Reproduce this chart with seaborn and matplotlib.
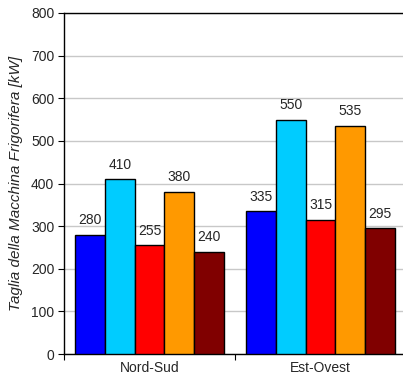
import pandas as pd
import matplotlib
matplotlib.use("Agg")
import matplotlib.pyplot as plt
import seaborn as sns

categories = ["Nord-Sud", "Est-Ovest"]
series = ["S1", "S2", "S3", "S4", "S5"]
values_nord_sud = [280, 410, 255, 380, 240]
values_est_ovest = [335, 550, 315, 535, 295]
colors = ["#0000FF", "#00CCFF", "#FF0000", "#FF9900", "#800000"]

df = pd.DataFrame({
    "cat": [categories[0]] * 5 + [categories[1]] * 5,
    "serie": series * 2,
    "val": values_nord_sud + values_est_ovest,
})

sns.set_style("white")
plt.rcParams['font.family'] = ['Liberation Sans', 'DejaVu Sans']

fig = plt.figure(figsize=(4.03, 3.81), dpi=100)
ax = fig.add_axes([64 / 403, 1 - 354 / 381, 342 / 403, 341 / 381])

sns.barplot(data=df, x="cat", y="val", hue="serie", order=categories,
            hue_order=series, palette=colors, width=0.87, saturation=1,
            edgecolor="black", linewidth=1, legend=False, ax=ax, zorder=3)

### value labels on top of the bars
for c in ax.containers:
    ax.bar_label(c, labels=[f"{v:.0f}" for v in c.datavalues], padding=5.5, fontsize=10)

ax.set_xlim(-0.5, 1.5)
ax.set_ylim(0, 800)
ax.set_yticks(range(0, 801, 100))
ax.yaxis.grid(True, color="#c8c8c8", linewidth=1, zorder=0)
ax.set_axisbelow(True)
ax.set_xticks([-0.5, 0.5, 1.5], minor=False)
ax.set_xticklabels(["", "", ""])
ax.set_xticks([0, 1], minor=True)
ax.set_xticklabels(categories, minor=True, fontsize=10)
ax.tick_params(axis="x", which="minor", length=0, pad=5)
ax.tick_params(axis="x", which="major", length=4, direction="out", bottom=True, color="black")
ax.tick_params(axis="y", length=4, direction="out", left=True, labelsize=10, pad=3, color="black")
ax.set_xlabel("")
ax.set_ylabel("Taglia della Macchina Frigorifera [kW]", fontsize=11, style="italic", labelpad=6)
for s in ["left", "bottom", "top"]:
    ax.spines[s].set_color("black")
    ax.spines[s].set_linewidth(1)
ax.spines["right"].set_visible(False)

fig.savefig("out.png", dpi=100)
